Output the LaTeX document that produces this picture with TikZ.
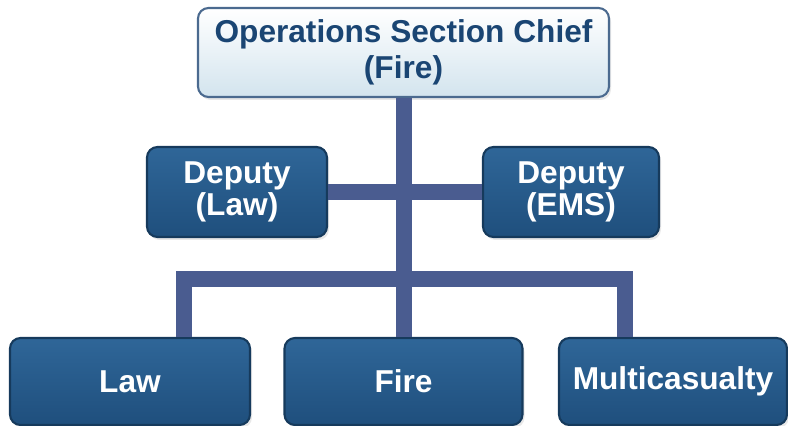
\documentclass[tikz,border=0pt]{standalone}
\usepackage{fontspec}
\setmainfont{Liberation Sans}
\usetikzlibrary{shadows}
\definecolor{boxtop}{HTML}{2F6698}
\definecolor{boxbot}{HTML}{1F4F7D}
\definecolor{boxline}{HTML}{163A5C}
\definecolor{chieftext}{HTML}{1A4573}
\definecolor{chiefbot}{HTML}{D3E4EE}
\definecolor{chiefline}{HTML}{4B6A8F}
\definecolor{linkblue}{HTML}{4A5C90}
\begin{document}
\begin{tikzpicture}[
        unit/.style={rectangle, draw=boxline, line width=1.2pt, top color=boxtop, bottom color=boxbot, text=white, align=center, rounded corners=6pt, font=\bfseries\fontsize{18}{15.6}\selectfont, inner sep=0pt, drop shadow={opacity=0.18, shadow xshift=0.04cm, shadow yshift=-0.06cm}},
        chiefbox/.style={unit, draw=chiefline, top color=white, bottom color=chiefbot, text=chieftext, font=\bfseries\fontsize{18}{20.4}\selectfont},
        link/.style={draw=linkblue, line width=0.32cm}
    ]
        \useasboundingbox (0,0) rectangle (15.76,-8.52);

        \node[chiefbox, minimum width=8.22cm, minimum height=1.78cm] (chief) at (8.07,-1.05) {Operations Section Chief\\(Fire)};

        \node[unit, minimum width=3.6cm, minimum height=1.8cm] (deplaw) at (4.74,-3.84) {Deputy\\(Law)};
        \node[unit, minimum width=3.52cm, minimum height=1.8cm] (depems) at (11.42,-3.84) {Deputy\\(EMS)};

        \node[unit, minimum width=4.8cm, minimum height=1.74cm] (law) at (2.6,-7.63) {Law};
        \node[unit, minimum width=4.76cm, minimum height=1.74cm] (fire) at (8.07,-7.63) {Fire};
        \node[unit, minimum width=4.56cm, minimum height=1.74cm] (mci) at (13.46,-7.63) {Multicasualty};

        \coordinate (lawtap) at (3.68,-5.57);
        \coordinate (mcitap) at (12.5,-5.57);

        \path[link] (chief.south) -- (fire.north);
        \path[link] (deplaw.east) -- (depems.west);
        \path[link] (law.north -| lawtap) -- (lawtap) -- (mcitap) -- (mci.north -| mcitap);
    \end{tikzpicture}
\end{document}
